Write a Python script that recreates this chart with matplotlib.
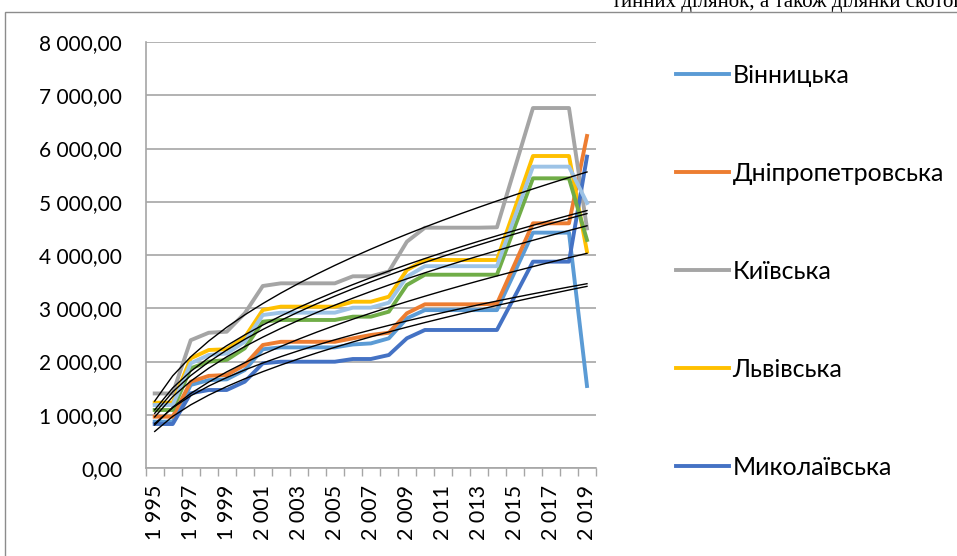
import numpy as np
import matplotlib
matplotlib.use("Agg")
import matplotlib.pyplot as plt
from matplotlib.lines import Line2D
from matplotlib.patches import Rectangle
from matplotlib.ticker import FuncFormatter, FixedLocator

plt.rcParams['font.family'] = ['Lato', 'DejaVu Sans']

years = list(range(1995, 2020))

vinnytska = [870, 870, 1560, 1650, 1665, 1840, 2230, 2265, 2265, 2265, 2265, 2320, 2340,
             2435, 2810, 2965, 2965, 2965, 2965, 2965, 3690, 4420, 4420, 4420, 1540]
dnipro = [964, 964, 1620, 1730, 1747, 1935, 2310, 2370, 2370, 2370, 2370, 2435, 2498,
          2540, 2905, 3074, 3074, 3074, 3074, 3085, 3840, 4595, 4595, 4595, 6235]
kyivska = [1400, 1400, 2400, 2540, 2560, 2905, 3418, 3468, 3468, 3468, 3468, 3600, 3600,
           3690, 4250, 4513, 4513, 4513, 4513, 4520, 5640, 6760, 6760, 6760, 4500]
lvivska = [1227, 1227, 2060, 2216, 2230, 2454, 2967, 3030, 3030, 3030, 3030, 3123, 3123,
           3217, 3718, 3906, 3906, 3906, 3906, 3906, 4880, 5859, 5859, 5859, 4062]
mykolaivska = [826, 826, 1403, 1465, 1465, 1621, 1966, 1996, 1996, 1996, 1996, 2047, 2047,
               2122, 2436, 2592, 2592, 2592, 2592, 2592, 3230, 3875, 3875, 3875, 5847]
series6 = [1089, 1089, 1872, 1997, 2030, 2248, 2748, 2780, 2780, 2780, 2780, 2842, 2842,
           2936, 3437, 3630, 3630, 3630, 3630, 3630, 4535, 5440, 5440, 5440, 4282]
series7 = [1183, 1183, 1966, 2122, 2150, 2372, 2873, 2917, 2917, 2917, 2917, 3011, 3011,
           3105, 3593, 3790, 3790, 3790, 3790, 3790, 4720, 5659, 5659, 5659, 4976]

legend_names = ['Вінницька', 'Дніпропетровська', 'Київська', 'Львівська', 'Миколаївська']
all_series = [vinnytska, dnipro, kyivska, lvivska, mykolaivska, series6, series7]
colors = ['#5B9BD5', '#ED7D31', '#A5A5A5', '#FFC000', '#4472C4', '#70AD47', '#9DC3E6']

W, H = 957, 556
fig = plt.figure(figsize=(W / 100, H / 100), dpi=100)

# outer chart frame
fig.patches.append(Rectangle((5 / W, -0.05), 1.2, 1 - 12 / H + 0.05, transform=fig.transFigure,
                             fill=False, edgecolor='#8C8C8C', linewidth=1.0))
fig.text(612 / W, 1 - 7 / H, 'тинних ділянок, а також ділянки скотог',
         family='Liberation Serif', fontsize=15, va='baseline', ha='left')

ax = fig.add_axes([145.7 / W, 1 - 468 / H, (596 - 145.7) / W, (468 - 42) / H])
x = np.arange(len(years))

for vals, c in zip(all_series, colors):
    ax.plot(x, vals, color=c, linewidth=2.8, solid_joinstyle='round', zorder=3)

# power trend lines, y = a * t**b with t = 1..N
lt = np.log(x + 1)
for vals in all_series:
    b, la = np.polyfit(lt, np.log(np.array(vals, dtype=float)), 1)
    ax.plot(x, np.exp(la) * (x + 1) ** b, color='black', linewidth=1.0, zorder=4)

ax.set_xlim(-0.5, len(years) - 0.5)
ax.set_ylim(0, 8000)
ax.set_yticks(np.arange(0, 8001, 1000))
ax.yaxis.set_major_formatter(FuncFormatter(
    lambda v, p: f"{v:,.2f}".replace(',', ' ').replace('.', ',')))
ax.tick_params(axis='y', length=0, pad=17, labelsize=15)
ax.grid(axis='y', color='#A6A6A6', linewidth=1.2)
ax.set_axisbelow(True)

ax.xaxis.set_major_locator(FixedLocator(np.arange(-0.5, len(years), 1.0)))
ax.xaxis.set_major_formatter(FuncFormatter(lambda v, p: ''))
ax.xaxis.set_minor_locator(FixedLocator(x[::2]))
ax.set_xticklabels([f"{y // 1000} {y % 1000:03d}" for y in years[::2]], minor=True)
ax.tick_params(axis='x', which='major', length=6, color='#A6A6A6', width=1.0)
ax.tick_params(axis='x', which='minor', length=0, pad=12, labelsize=15.5, labelrotation=90)

for s in ['top', 'right']:
    ax.spines[s].set_visible(False)
for s in ['left', 'bottom']:
    ax.spines[s].set_color('#A6A6A6')
    ax.spines[s].set_linewidth(1.2)

handles = [Line2D([], [], color=c, linewidth=2.8) for c in colors[:5]]
fig.legend(handles, legend_names, loc='upper left', bbox_to_anchor=(666 / W, 1 - 54 / H),
           frameon=False, fontsize=18, handlelength=2.1, handletextpad=0.16,
           labelspacing=3.0, borderaxespad=0)

fig.savefig('out.png', dpi=100)
